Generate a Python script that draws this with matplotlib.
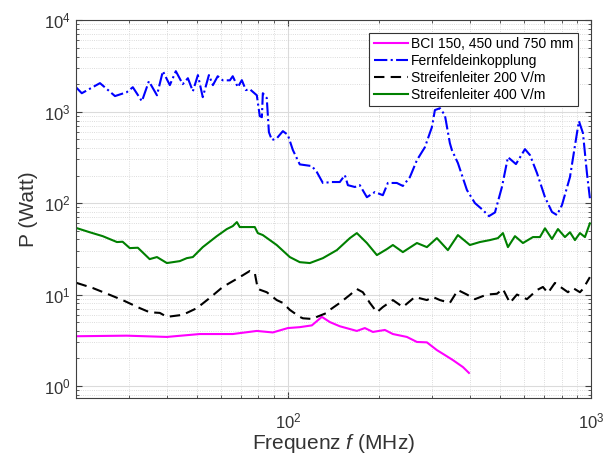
import numpy as np
import matplotlib
matplotlib.use('Agg')
import matplotlib.pyplot as plt

plt.rcParams['font.family'] = ['Liberation Sans', 'DejaVu Sans']
plt.rcParams['mathtext.fontset'] = 'custom'
plt.rcParams['mathtext.rm'] = 'Liberation Sans'
plt.rcParams['mathtext.it'] = 'Liberation Sans:italic'

# BCI 150, 450 und 750 mm
bci_f = [20, 29.4, 39.9, 51.2, 65.8, 79, 89.2, 100, 109.5, 120, 129.5, 137.6, 148.4,
         168.9, 179.5, 190.8, 209, 222.1, 247, 266.6, 287.6, 310.2, 329.7, 350.4, 378.2, 395.8]
bci_p = [3.5, 3.55, 3.44, 3.7, 3.7, 4.0, 3.85, 4.3, 4.4, 4.6, 5.7, 5.0, 4.5,
         4.0, 4.3, 3.9, 4.1, 3.7, 3.44, 3.03, 3.0, 2.47, 2.18, 1.92, 1.61, 1.39]

# Fernfeldeinkopplung
fern_f = [20, 20.9, 24, 26.9, 29.4, 30.8, 33, 34.8, 37, 38.7, 40.8, 42.7, 45, 46.8, 48.6,
          50.5, 52.4, 54.9, 56.6, 58.7, 61, 64.4, 65.8, 68.4, 70.5, 72.7, 74.9, 79, 80.8,
          82.1, 82.7, 85.2, 86.6, 88.6, 91.9, 96.3, 100, 103.9, 109.5, 120, 124.7, 130.5,
          139.7, 148.4, 154.2, 157.8, 166.4, 172.8, 182.3, 193.7, 205.8, 213.8, 228.9,
          239.6, 252.7, 266.6, 283.3, 298.8, 305.6, 317.5, 329.7, 342.4, 347.7, 364, 389.8,
          414.2, 440.1, 460.7, 482.3, 508.6, 532.3, 565.7, 605.8, 629.3, 663.7, 705.3,
          743.7, 772.4, 802.3, 852.6, 899.2, 913, 941.1, 970, 992]
fern_p = [1850, 1590, 2050, 1480, 1630, 1850, 1300, 2150, 1510, 2770, 1950, 2770, 2000, 2320, 1670,
          2510, 1440, 2510, 1950, 2440, 2200, 2200, 2440, 1850, 2210, 1720, 1760, 1510, 893,
          870, 1590, 1410, 597, 489, 510, 612, 557, 380, 265, 254, 218, 166,
          170, 170, 202, 157, 150, 157, 116, 132, 122, 166, 166,
          154, 192, 295, 409, 678, 1040, 1090, 916, 453, 380, 274, 139,
          100, 84, 72, 79, 150, 318, 267, 389, 335, 213, 116,
          80, 74, 95, 192, 582, 787, 582, 213, 113]

# Streifenleiter 200 V/m
s200_f = [20.1, 22.7, 25.9, 28.5, 32.5, 35, 37.8, 39.9, 45, 50.1, 55.3, 61, 69.4, 74.9, 77.8,
          79.6, 85.2, 91.9, 96.3, 101.5, 109.5, 112.1, 120.9, 124.7, 134.5, 137.6, 148.4,
          160.2, 168.9, 176.8, 186.5, 196.7, 205.8, 222.1, 239.6, 262.5, 287.6, 301, 317.5,
          342.4, 364, 389.8, 414.2, 453.7, 489.6, 512.4, 540.4, 570, 614.9, 663.7, 694.4,
          721.3, 760.7, 802.3, 839.7, 872.1, 919.8, 941.1, 992]
s200_p = [13.4, 11.8, 9.9, 8.7, 7.1, 6.4, 6.3, 5.7, 6.0, 7.1, 9.2, 12.1, 15.5, 18.1, 17.2,
          11.5, 10.6, 8.7, 8.1, 6.8, 5.7, 5.5, 5.4, 5.7, 6.3, 6.8, 8.1,
          9.9, 11.5, 10.6, 8.1, 6.4, 7.3, 8.7, 7.3, 9.4, 8.7, 9.4, 8.7,
          8.1, 11.2, 10.0, 8.9, 10, 10.2, 11.5, 8.1, 10, 8.9, 11.2, 12.1,
          10.4, 13.4, 11.8, 10.6, 11.8, 10.6, 11.5, 15.5]

# Streifenleiter 400 V/m
s400_f = [20.1, 22.2, 24.5, 27.3, 28.5, 30.1, 32, 35, 37, 39.9, 44, 46.4, 48.6, 52.4, 58.3,
          62.9, 65.8, 67.9, 69.4, 77.8, 79.6, 82.7, 91.9, 101.5, 109.5, 118.2, 130.5, 145.1,
          160.2, 168.9, 182.3, 196.7, 212.2, 222.1, 239.6, 266.6, 287.6, 310.2, 337.3, 364,
          398.7, 430, 464.2, 493.3, 512.4, 532.3, 561.5, 596.5, 643.7, 678.8, 705.3, 743.7,
          778.3, 820.8, 852.6, 885.6, 919.8, 955.4, 992]
s400_p = [53.3, 48, 43.5, 37.5, 37.8, 32.2, 32.5, 24.4, 25.7, 22.1, 23.2, 25, 25.7, 33, 43.5,
          52, 56, 62, 54.7, 54.7, 47, 44.7, 34.8, 25.7, 22.6, 22.1, 25, 30.6,
          41.4, 47, 36.6, 27, 31.4, 34.8, 29.1, 36.6, 33, 41.4, 30.6, 44.7,
          34.8, 37.5, 39.4, 41.4, 47, 33, 43.5, 36.6, 42.5, 42.5, 53, 40.5,
          52, 42.5, 48, 39.4, 47, 42.5, 60]

fig = plt.figure(figsize=(6.03, 4.59), dpi=100)
ax = fig.add_axes([0.126, 0.133, 0.854, 0.823])

ax.loglog(bci_f, bci_p, color=(1, 0, 1), lw=1.5, label='BCI 150, 450 und 750 mm')
ax.loglog(fern_f, fern_p, color=(0, 0, 1), lw=1.5, ls='-.', label='Fernfeldeinkopplung')
ax.loglog(s200_f, s200_p, color='k', lw=1.5, ls=(0, (5, 3)), label='Streifenleiter 200 V/m')
ax.loglog(s400_f, s400_p, color=(0, 0.5, 0), lw=1.5, label='Streifenleiter 400 V/m')

ax.set_xlim(20, 1000)
ax.set_ylim(0.74, 1e4)

ax.grid(True, which='major', color='0.86', lw=0.8)
ax.grid(True, which='minor', color='0.82', lw=0.6, ls=':')
ax.tick_params(which='both', direction='in', top=True, right=True, colors='0.25',
               labelsize=12, labelcolor='0.2')
ax.tick_params(which='major', length=4)
ax.tick_params(which='minor', length=2.5)
ax.tick_params(axis='x', which='major', pad=10)
ax.tick_params(axis='y', which='major', pad=4)
for s in ax.spines.values():
    s.set_color('0.25')
    s.set_linewidth(0.8)

ax.set_xlabel('Frequenz $f$ (MHz)', fontsize=15, color='0.2', labelpad=0)
ax.set_ylabel('P (Watt)', fontsize=15, color='0.2', labelpad=4)

leg = ax.legend(loc='upper right', fontsize=10, handlelength=2.5, handletextpad=0.2,
                borderpad=0.3, labelspacing=0.2, fancybox=False, framealpha=1,
                bbox_to_anchor=(0.974, 0.966), borderaxespad=0)
leg.get_frame().set_edgecolor('0.2')
leg.get_frame().set_linewidth(0.8)

fig.savefig('out.png', dpi=100)
